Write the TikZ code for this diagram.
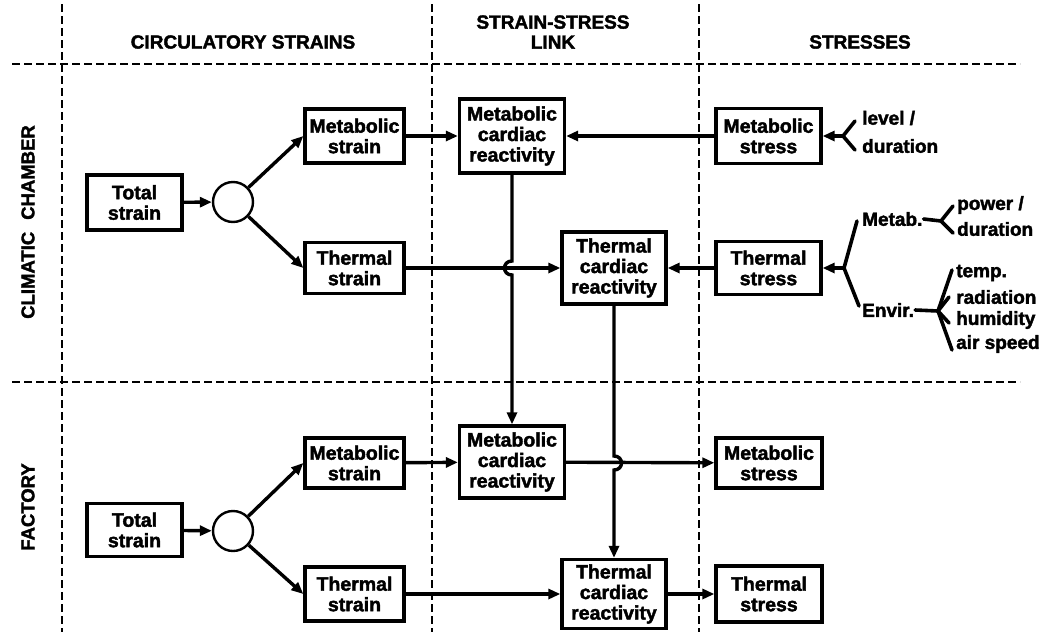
\documentclass[tikz,border=0pt]{standalone}
\usepackage{fontspec}
\setmainfont{Liberation Sans}
\newfontfamily\heavy{Liberation Sans}[BoldFeatures={FakeBold=2}]
\usetikzlibrary{arrows.meta}
\begin{document}
\begin{tikzpicture}[x=1pt,y=-1pt,
  box/.style={draw, line width=3.3pt, font=\heavy\bfseries\fontsize{19.5}{20.5}\selectfont, align=center, inner sep=0pt},
  lbl/.style={font=\heavy\bfseries\fontsize{19}{20.5}\selectfont, inner sep=0pt, anchor=west},
  hdr/.style={font=\heavy\bfseries\fontsize{19}{20}\selectfont, align=center, inner sep=0pt},
  side/.style={font=\heavy\bfseries\fontsize{18.5}{20}\selectfont, inner sep=0pt, rotate=90},
  arr/.style={line width=3.4pt, -{Triangle[length=12pt,width=10pt]}},
  br/.style={line width=3.6pt, line cap=round},
  div/.style={line width=2.4pt, dash pattern=on 8pt off 4pt}
]
\useasboundingbox (0,0) rectangle (1048,632);
% dividers
\draw[div] (62,4) -- (62,632);
\draw[div] (432,4) -- (432,632);
\draw[div] (699,4) -- (699,632);
\draw[div] (12,64) -- (1020,64);
\draw[div] (12,382) -- (1020,382);
% headers
\node[hdr] (h1) at (243,42) {CIRCULATORY STRAINS};
\node[hdr] (h2) at (553,32) {STRAIN-STRESS\\LINK};
\node[hdr] (h3) at (860,42) {STRESSES};
\node[side] (s1) at (28,222) {CLIMATIC\hspace{12pt}CHAMBER};
\node[side] (s2) at (28,507) {FACTORY};
% top section
\node[box, minimum width=95pt, minimum height=55pt] (ts1) at (134.5,202.5) {Total\\strain};
\node[draw, circle, line width=2.4pt, minimum size=40pt, inner sep=0pt] (c1) at (233,202) {};
\node[box, minimum width=99pt, minimum height=54pt] (ms1) at (354.5,136) {Metabolic\\strain};
\node[box, minimum width=99pt, minimum height=51pt] (th1) at (354.5,268) {Thermal\\strain};
\node[box, minimum width=105pt, minimum height=74pt] (mcr1) at (512,136) {Metabolic\\cardiac\\reactivity};
\node[box, minimum width=104pt, minimum height=72pt] (tcr1) at (614,268) {Thermal\\cardiac\\reactivity};
\node[box, minimum width=105pt, minimum height=55pt] (mst1) at (768.5,136) {Metabolic\\stress};
\node[box, minimum width=105pt, minimum height=53pt] (tst1) at (768.5,268) {Thermal\\stress};
% bottom section
\node[box, minimum width=95pt, minimum height=53pt] (ts2) at (134.5,530) {Total\\strain};
\node[draw, circle, line width=2.4pt, minimum size=40pt, inner sep=0pt] (c2) at (233,531) {};
\node[box, minimum width=99pt, minimum height=50pt] (ms2) at (354.5,463) {Metabolic\\strain};
\node[box, minimum width=99pt, minimum height=54pt] (th2) at (354.5,594) {Thermal\\strain};
\node[box, minimum width=105pt, minimum height=72pt] (mcr2) at (512,462) {Metabolic\\cardiac\\reactivity};
\node[box, minimum width=104pt, minimum height=69pt] (tcr2) at (614,594) {Thermal\\cardiac\\reactivity};
\node[box, minimum width=106pt, minimum height=50pt] (mst2) at (769,463) {Metabolic\\stress};
\node[box, minimum width=106pt, minimum height=56pt] (tst2) at (769,594) {Thermal\\stress};
% top arrows
\draw[arr] (ts1) -- (c1);
\draw[arr] (c1) -- (ms1.west);
\draw[arr] (c1) -- (th1.west);
\draw[arr] (ms1) -- (mcr1);
\draw[arr] (th1) -- (tcr1);
\draw[arr] (mst1) -- (mcr1);
\draw[arr] (tst1) -- (tcr1);
% bottom arrows
\draw[arr] (ts2) -- (c2);
\draw[arr] (c2) -- (ms2.west);
\draw[arr] (c2) -- (th2.west);
\draw[arr] (ms2) -- (mcr2);
\draw[arr] (th2) -- (tcr2);
\draw[arr] (mcr2) -- (mst2);
\draw[arr] (tcr2) -- (tst2);
% vertical links with hops
\draw[arr] (mcr1.south) -- (512,261) .. controls (502,261) and (502,275) .. (512,275) -- (mcr2.north);
\draw[arr] (tcr1.south) -- (614,456) .. controls (624,456) and (624,470) .. (614,470) -- (tcr2.north);
% metabolic stress tree
\coordinate (f1) at (843,136);
\coordinate (f1a) at (855,121);
\coordinate (f1b) at (855,150);
\draw[arr] (f1) -- (mst1);
\draw[br] (f1a) -- (f1) -- (f1b);
\node[lbl] (lv) at (862,118) {level /};
\node[lbl] (du1) at (862,146) {duration};
% thermal stress tree
\coordinate (f2) at (844,268);
\coordinate (f2a) at (857,221);
\coordinate (f2b) at (859,306);
\draw[arr] (f2) -- (tst1);
\draw[br] (f2a) -- (f2) -- (f2b);
\node[lbl] (mt) at (862,219) {Metab.};
\node[lbl] (en) at (862,310) {Envir.};
\coordinate (f3) at (941,221);
\coordinate (f3a) at (953,206);
\coordinate (f3b) at (953,233);
\draw[br] (mt.east) ++(1pt,0) -- (f3);
\draw[br] (f3a) -- (f3) -- (f3b);
\node[lbl] (pw) at (957,205) {power /};
\node[lbl] (du2) at (957,229) {duration};
\coordinate (f4) at (938,311);
\coordinate (f4a) at (952,270);
\coordinate (f4b) at (949,297);
\coordinate (f4c) at (949,323);
\coordinate (f4d) at (952,350);
\draw[br] (en.east) ++(1pt,0) -- (f4);
\draw[br] (f4a) -- (f4) -- (f4d);
\draw[br] (f4b) -- (f4) -- (f4c);
\node[lbl] (tp) at (956,273) {temp.};
\node[lbl] (rd) at (956,297) {radiation};
\node[lbl] (hu) at (956,320) {humidity};
\node[lbl] (as) at (956,344) {air speed};
\end{tikzpicture}
\end{document}
